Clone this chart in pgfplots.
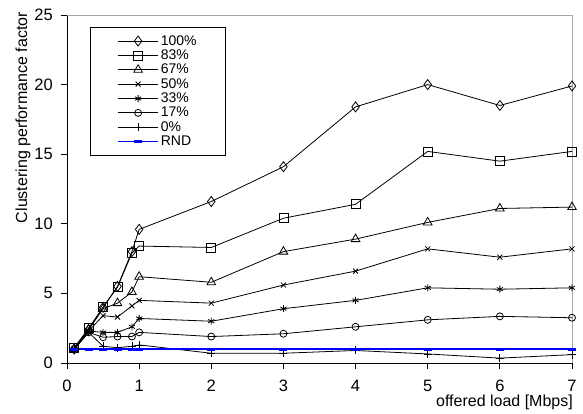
\documentclass[border=0pt]{standalone}
\usepackage{pgfplots}
\pgfplotsset{compat=1.18}
\usepackage{pgfplotstable}
\usepackage{fontspec}
\setmainfont{Liberation Sans}
\pgfplotstableread{
x     p100  p83   p67  p50  p33  p17   p0    rnd
0.1   1.0   1.1   1.0  1.0  1.0  1.0   1.0   1.0
0.3   2.4   2.5   2.4  2.3  2.3  2.2   2.2   1.0
0.5   4.0   4.0   3.9  3.4  2.2  1.85  1.2   1.0
0.7   5.5   5.45  4.3  3.3  2.2  1.9   1.1   1.0
0.9   8.0   7.9   5.1  4.1  2.6  1.9   1.2   1.0
1     9.6   8.4   6.2  4.5  3.2  2.2   1.3   1.0
2     11.6  8.3   5.8  4.3  3.0  1.9   0.7   1.0
3     14.1  10.4  8.0  5.6  3.9  2.1   0.7   1.0
4     18.4  11.4  8.9  6.6  4.5  2.6   0.9   1.0
5     20.0  15.2  10.1 8.2  5.4  3.1   0.65  1.0
6     18.5  14.5  11.1 7.6  5.3  3.35  0.35  1.0
7     19.9  15.2  11.2 8.2  5.4  3.25  0.6   1.0
}\data
\begin{document}
\begin{tikzpicture}
\useasboundingbox (0,0) rectangle (583pt,414pt);
\begin{axis}[
  at={(67pt,51pt)}, anchor=south west,
  scale only axis, width=505pt, height=348pt,
  xmin=0, xmax=7, ymin=0, ymax=25,
  xtick={0,1,...,7}, ytick={0,5,...,25},
  axis x line*=bottom, axis y line*=left,
  axis line style={black, line width=0.8pt, -},
  tick align=outside, major tick length=6pt,
  tick style={black, line width=0.8pt},
  /pgf/number format/assume math mode=true,
  tick label style={font=\fontsize{16.5}{18}\selectfont},
  yticklabel style={inner sep=0pt, xshift=-8pt},
  xticklabel style={inner sep=0pt, yshift=-11pt},
  ylabel={Clustering performance factor},
  ylabel style={at={(axis description cs:-0.087,0.705)}, anchor=center, font=\fontsize{16}{18}\selectfont},
  xlabel={offered load [Mbps]},
  xlabel style={at={(axis description cs:1.002,0)}, anchor=base east, yshift=-44pt, inner sep=0pt, font=\fontsize{16}{18}\selectfont},
  clip=false,
  legend style={at={(axis description cs:0.0455,0.9655)}, anchor=north west,
    draw=black, line width=0.8pt, font=\fontsize{14}{14}\selectfont,
    inner xsep=27pt, inner ysep=6pt, row sep=-0.9pt},
  legend cell align=left,
  legend image code/.code={\draw[mark repeat=2,mark phase=2] plot coordinates {(0pt,0pt) (20pt,0pt) (40pt,0pt)};},
  every axis plot/.append style={line width=0.8pt},
]
\draw[gray!70, line width=0.8pt] (rel axis cs:0,1) -- (rel axis cs:1,1) -- (rel axis cs:1,0);
\addplot[black, mark=diamond, mark size=5pt, mark options={fill=white, solid}] table[x=x,y=p100] {\data};
\addlegendentry{100\%}
\addplot[black, mark=square, mark size=4.5pt, mark options={fill=white}] table[x=x,y=p83] {\data};
\addlegendentry{83\%}
\addplot[black, mark=triangle, mark size=5pt, mark options={fill=white}] table[x=x,y=p67] {\data};
\addlegendentry{67\%}
\addplot[black, mark=x, mark size=3.5pt] table[x=x,y=p50] {\data};
\addlegendentry{50\%}
\addplot[black, mark=asterisk, mark size=3.5pt] table[x=x,y=p33] {\data};
\addlegendentry{33\%}
\addplot[black, mark=o, mark size=3.5pt, mark options={fill=white}] table[x=x,y=p17] {\data};
\addlegendentry{17\%}
\addplot[black, mark=+, mark size=4pt] table[x=x,y=p0] {\data};
\addlegendentry{0\%}
\addplot[color={rgb,255:red,0;green,0;blue,255}, line width=1.5pt, mark=-, mark size=4pt, mark options={line width=3pt}] table[x=x,y=rnd] {\data};
\addlegendentry{RND}
\end{axis}
\end{tikzpicture}
\end{document}
